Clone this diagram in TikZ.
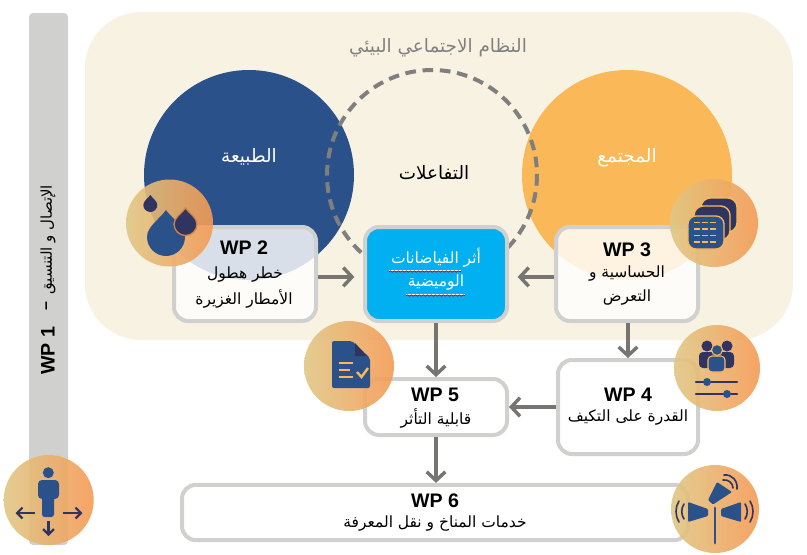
\documentclass[tikz,border=0pt]{standalone}
\usepackage{fontspec}
\setmainfont{Liberation Sans}
\newfontfamily\arabicfont[Script=Arabic]{DejaVu Sans}
\TeXXeTstate=1
\usetikzlibrary{arrows.meta,decorations.pathmorphing}
\definecolor{bgcream}{HTML}{F8F2E3}
\definecolor{barg}{HTML}{D0D0CE}
\definecolor{natblue}{HTML}{2A5189}
\definecolor{socorange}{HTML}{FBB858}
\definecolor{dashg}{HTML}{7F7F7F}
\definecolor{arrowg}{HTML}{767571}
\definecolor{cyanbox}{HTML}{00B0F0}
\definecolor{icdark}{HTML}{2F3560}
\definecolor{gradl}{HTML}{E0C785}
\definecolor{gradr}{HTML}{F59A54}
\definecolor{titleg}{HTML}{808080}
\newcommand{\ar}[1]{{\arabicfont\beginR #1\endR}}
\tikzset{
  wpbox/.style={draw=barg,line width=3pt,rounded corners=10.5pt,fill=white,fill opacity=.82,draw opacity=1,inner sep=0pt,anchor=center},
  wptitle/.style={font=\fontsize{14.7}{16}\selectfont\bfseries,inner sep=0pt},
  artext/.style={font=\fontsize{11.6}{13}\selectfont,inner sep=0pt},
  bigtext/.style={font=\fontsize{13.8}{15}\selectfont,inner sep=0pt},
  flow/.style={draw=arrowg,line width=2.6pt,-{Straight Barb[length=6.5pt,width=14pt,line width=2.6pt]}},
  iconc/.style={left color=gradl,right color=gradr,fill opacity=.9,draw=none},
  thinarrow/.style={draw=icdark,line width=1.9pt,-{Straight Barb[length=4pt,width=8pt,line width=1.7pt]}},
  squig/.style={draw=red!85!black,line width=.55pt,decorate,decoration={snake,amplitude=.5pt,segment length=3pt}},
  underl/.style={draw=white,line width=.6pt}
}
\newcommand{\dropshape}[4]{(#1,#4) .. controls ({#1+#3*.35},{#4+(#2-#4)*.35}) and ({#1+#3},{#2-#3*.55}) .. ({#1+#3},#2)
  .. controls ({#1+#3},{#2+#3*.55}) and ({#1+#3*.55},{#2+#3}) .. (#1,{#2+#3})
  .. controls ({#1-#3*.55},{#2+#3}) and ({#1-#3},{#2+#3*.55}) .. ({#1-#3},#2)
  .. controls ({#1-#3},{#2-#3*.55}) and ({#1-#3*.35},{#4+(#2-#4)*.35}) .. (#1,#4) -- cycle}
\begin{document}
\begin{tikzpicture}[x=.75pt,y=-.75pt]
\useasboundingbox (0,0) rectangle (807,554);
% backgrounds
\fill[bgcream,rounded corners=42pt] (85,12) rectangle (793,340);
\fill[barg,rounded corners=3pt] (29,13) rectangle (68,545);
% big circles
\fill[natblue] (249,175) circle[radius=105];
\fill[socorange] (627,175) circle[radius=105];
\draw[dashg,line width=3pt,dash pattern=on 8pt off 5pt] (432,175) circle[radius=105];
% boxes
\node[wpbox,minimum width=106.5pt,minimum height=70.5pt] (wp2) at (245,274) {};
\node[wpbox,minimum width=106.5pt,minimum height=70.5pt,fill=cyanbox,fill opacity=1] (flood) at (436,274) {};
\node[wpbox,minimum width=106.5pt,minimum height=70.5pt] (wp3) at (627,274) {};
\node[wpbox,minimum width=105pt,minimum height=70.5pt] (wp4) at (628,407) {};
\node[wpbox,minimum width=106.5pt,minimum height=42pt,fill opacity=1] (wp5) at (436,407) {};
\node[wpbox,minimum width=379.5pt,minimum height=41.5pt,fill opacity=1] (wp6) at (435,512.5) {};
% connectors
\draw[flow] ([yshift=-2.2pt]wp2.east) -- ([yshift=-2.2pt,xshift=-6.5pt]flood.west);
\draw[flow] ([yshift=-2.2pt]wp3.west) -- ([yshift=-2.2pt,xshift=6.5pt]flood.east);
\draw[flow] (flood.south) -- (wp5.north);
\draw[flow] ([xshift=.75pt]wp3.south) -- (wp4.north);
\draw[flow] (wp4.west) -- (wp5.east);
\draw[flow] (wp5.south) -- (wp5.south |- wp6.north);
% texts
\node[bigtext,text=titleg] (title) at (438,48) {\ar{النظام الاجتماعي البيئي}};
\node[bigtext,text=white] (nat) at (249,157) {\ar{الطبيعة}};
\node[bigtext,text=black] (inter) at (434,173) {\ar{التفاعلات}};
\node[bigtext,text=white] (soc) at (627,158) {\ar{المجتمع}};
\node[wptitle] (t2) at (244,248) {WP 2};
\node[artext] (a2a) at (245,275) {\ar{خطر هطول}};
\node[artext] (a2b) at (244,299) {\ar{الأمطار الغزيرة}};
\node[wptitle] (t3) at (627,250) {WP 3};
\node[artext] (a3a) at (627,274) {\ar{الحساسية و}};
\node[artext] (a3b) at (627,298) {\ar{التعرض}};
\node[wptitle] (t4) at (628,395) {WP 4};
\node[artext] (a4) at (628,418) {\ar{القدرة على التكيف}};
\node[wptitle] (t5) at (435,395) {WP 5};
\node[artext] (a5) at (436,418) {\ar{قابلية التأثر}};
\node[wptitle] (t6) at (435,501) {WP 6};
\node[artext] (a6) at (435,524) {\ar{خدمات المناخ و نقل المعرفة}};
\node[artext,text=white] (f1) at (436,258) {\ar{أثر الفياضانات}};
\node[artext,text=white] (f2) at (436,283) {\ar{الوميضية}};
\draw[underl] (389,270.3) -- (461,270.3);
\draw[underl] (406,294.3) -- (465,294.3);
\draw[squig] (389,271.5) -- (461,271.5);
\draw[squig] (406,295.5) -- (465,295.5);
\node[wptitle,rotate=90] (t1) at (48,351) {WP 1};
\node[wptitle,rotate=90,font=\fontsize{12}{14}\selectfont\bfseries] (d1) at (48,306) {–};
\node[artext,rotate=90,font=\fontsize{11.2}{13}\selectfont] (a1) at (48,240) {\ar{الإتصال و التنسيق}};
% icon: person
\path[iconc] (48.7,500) circle[radius=45];
\fill[natblue] (48.3,472.7) circle[radius=5.5];
\fill[natblue,rounded corners=3pt] (38,480) rectangle (59,499);
\fill[natblue,rounded corners=2pt] (42,485) rectangle (54,517);
\draw[thinarrow] (35,513) -- (15.5,513);
\draw[thinarrow] (63,513) -- (82.5,513);
\draw[thinarrow] (48.5,521) -- (48.5,536);
% icon: water
\path[iconc] (169.5,223) circle[radius=43.5];
\fill[natblue] \dropshape{166}{237}{19}{210};
\fill[icdark] \dropshape{150.3}{205}{7}{195};
\path[fill=icdark,draw=gradr!85!black,line width=1pt] \dropshape{185.5}{224}{11.5}{208};
% icon: layers
\path[iconc] (714,223) circle[radius=44];
\foreach \xa/\ya in {701/198,694/206}{
  \path[fill=icdark,draw=socorange,line width=1pt,rounded corners=7pt] (\xa,\ya) rectangle ++(36,34);
}
\path[fill=natblue,draw=socorange,line width=1pt,rounded corners=6pt] (688,216) rectangle (724,249);
\foreach \yy in {222.5,229,235.5,242}{
  \foreach \xx in {694,702,710}{
    \draw[socorange,line width=1pt] (\xx,\yy) -- ++(5.5,0);
  }
}
% icon: people
\path[iconc] (717,368) circle[radius=43];
\fill[icdark] (707,346) circle[radius=5.5];
\fill[icdark] (727,346) circle[radius=5.5];
\fill[icdark,rounded corners=3pt] (699,352) rectangle (734,368);
\path[fill=natblue,draw=socorange,line width=.8pt] (717,350) circle[radius=5.5];
\path[fill=natblue,draw=socorange,line width=.8pt,rounded corners=3pt] (708,356) rectangle (725,372);
\draw[icdark,line width=2pt,line cap=round] (696,382) -- (737,382);
\draw[icdark,line width=2pt,line cap=round] (696,394) -- (737,394);
\fill[natblue] (707,382) circle[radius=4];
\fill[natblue] (727,394) circle[radius=4];
% icon: document
\path[iconc] (349,366) circle[radius=45];
\fill[natblue,rounded corners=1.5pt] (332,341) -- (352,341) -- (370,358) -- (370,388) -- (332,388) -- cycle;
\fill[icdark] (355,343) -- (367,356) -- (355,356) -- cycle;
\draw[socorange,line width=1.5pt] (339,363) -- (353,363) (339,370) -- (350,370) (339,377) -- (353,377);
\draw[socorange,line width=1.8pt] (357,372) -- (361.5,377) -- (368,368);
% icon: horn
\path[iconc] (715,509) circle[radius=44];
\draw[natblue,line width=2.2pt,line cap=round] (715,508) -- (715,543);
\fill[natblue,rounded corners=.8pt] (688,502) -- (708,509) -- (708,516) -- (688,522) -- cycle;
\fill[natblue,rounded corners=.8pt] (741,502) -- (721,509) -- (721,516) -- (741,522) -- cycle;
\fill[natblue,rounded corners=.8pt] (708,500) -- (717,482) -- (732,492) -- (713,504.5) -- cycle;
\draw[icdark,line width=1.2pt,line cap=round]
  (684,504) .. controls (681,508) and (681,515) .. (684,519)
  (679,501) .. controls (675,507) and (675,516) .. (679,522)
  (745,504) .. controls (748,508) and (748,515) .. (745,519)
  (750,501) .. controls (754,507) and (754,516) .. (750,522)
  (723,480) .. controls (728,479) and (733,483) .. (733,488)
  (724,475) .. controls (732,474) and (738,481) .. (737,489);
\end{tikzpicture}
\end{document}
